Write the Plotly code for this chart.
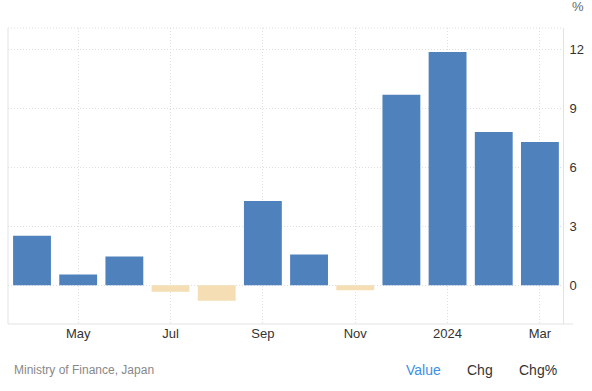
import plotly.graph_objects as go

months = ["Apr 2023", "May 2023", "Jun 2023", "Jul 2023", "Aug 2023", "Sep 2023",
          "Oct 2023", "Nov 2023", "Dec 2023", "Jan 2024", "Feb 2024", "Mar 2024"]
values = [2.52, 0.55, 1.46, -0.33, -0.79, 4.29, 1.56, -0.25, 9.68, 11.86, 7.79, 7.29]
tick_months = ["May 2023", "Jul 2023", "Sep 2023", "Nov 2023", "Jan 2024", "Mar 2024"]
tick_labels = ["May", "Jul", "Sep", "Nov", "2024", "Mar"]
y_ticks = [0, 3, 6, 9, 12]

POS = "#4f81bd"
NEG = "#f5deb3"
colors = [POS if v >= 0 else NEG for v in values]

fig = go.Figure(go.Bar(x=months, y=values, marker=dict(color=colors, line=dict(width=0)),
                       width=0.82, hoverinfo="x+y"))

font = "Liberation Sans, Arial, sans-serif"
GRID = "#dedede"
DOT = "1px,2px"
fig.update_layout(
    width=592, height=391,
    margin=dict(l=8, r=27, t=28, b=67),
    paper_bgcolor="white", plot_bgcolor="white",
    showlegend=False,
    font=dict(family=font, color="#333333", size=13),
)
fig.update_xaxes(
    type="category", categoryorder="array", categoryarray=months,
    tickmode="array", tickvals=tick_months, ticktext=tick_labels,
    showgrid=True, gridcolor=GRID, griddash=DOT, gridwidth=1,
    showline=False,
    ticks="", tickfont=dict(size=13, color="#333333"),
    range=[-0.52, 11.5], zeroline=False,
)
fig.update_yaxes(
    side="right", range=[-1.97, 13.08],
    tickmode="array", tickvals=y_ticks, ticktext=[str(t) for t in y_ticks],
    showgrid=True, gridcolor=GRID, griddash=DOT, gridwidth=1,
    showline=True, linecolor="#e3e3e3", linewidth=1,
    zeroline=False, ticks="", tickfont=dict(size=13, color="#333333"),
    ticklabelstandoff=3,
)
# top dotted border, left border, bottom axis line extending past right axis
fig.add_shape(type="line", xref="paper", yref="paper", x0=0, x1=1, y0=1, y1=1,
              line=dict(color=GRID, width=1, dash=DOT), layer="below")
fig.add_shape(type="line", xref="paper", yref="paper", x0=0, x1=0, y0=0, y1=1,
              line=dict(color="#e3e3e3", width=1), layer="below")
fig.add_shape(type="line", xref="paper", yref="paper", x0=0, x1=1 + 10 / 557, y0=0, y1=0,
              line=dict(color="#e3e3e3", width=1), layer="above")

fig.add_annotation(text="%", xref="paper", yref="paper", x=1.0, y=1.0,
                   xshift=15, yshift=22, showarrow=False, xanchor="center", yanchor="middle",
                   font=dict(size=13, color="#666666", family=font))
fig.add_annotation(text="Ministry of Finance, Japan", xref="paper", yref="paper",
                   x=0, y=0, xshift=4, yshift=-46, showarrow=False,
                   xanchor="left", yanchor="middle",
                   font=dict(size=12, color="#888888", family=font))
for label, xpos, col in [("Value", 425, "#3d8fe8"), ("Chg", 482, "#333333"), ("Chg%", 540, "#333333")]:
    fig.add_annotation(text=label, xref="paper", yref="paper",
                       x=(xpos - 8) / (592 - 35), y=0, yshift=-46, showarrow=False,
                       xanchor="center", yanchor="middle",
                       font=dict(size=14, color=col, family=font))

fig.write_html("out.html")
